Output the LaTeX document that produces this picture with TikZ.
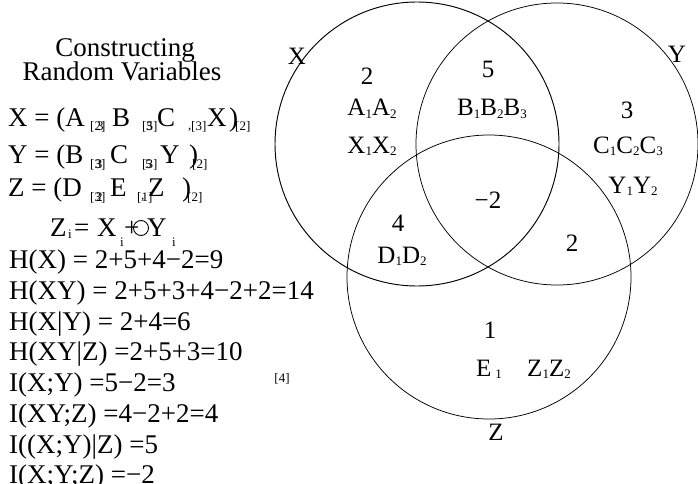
\documentclass[tikz,border=0pt]{standalone}
\usepackage{fontspec}
\setmainfont{Liberation Serif}
\newcommand{\vsb}[1]{\raisebox{-2pt}{\fontsize{13}{13}\selectfont#1}}
\begin{document}
\begin{tikzpicture}[x=1pt,y=-1pt,
  eq/.style={font=\fontsize{27}{30}\selectfont, anchor=base west, inner sep=0pt},
  ttl/.style={font=\fontsize{27}{30}\selectfont, anchor=base, inner sep=0pt},
  sb/.style={font=\fontsize{13}{15}\selectfont, anchor=base west, inner sep=0pt},
  vt/.style={font=\fontsize{25}{28}\selectfont, anchor=base, inner sep=0pt},
  ring/.style={draw=black, line width=0.75pt}]
\useasboundingbox (0,0) rectangle (698,484);
% circles
\draw[ring, line width=0.95pt] (417,144) circle[radius=142pt];
\draw[ring] (557,144) circle[radius=141pt];
\draw[ring] (489,277) circle[radius=142pt];
% circle labels
\node[vt] (lx) at (297,65) {X};
\node[vt] (ly) at (677,63) {Y};
\node[vt] (lz) at (496,440) {Z};
% region texts
\node[vt] (n2) at (367,85) {2};
\node[vt] (na) at (372,116) {A\vsb{1}A\vsb{2}};
\node[vt] (nx) at (372,153) {X\vsb{1}X\vsb{2}};
\node[vt] (n5) at (488,78) {5};
\node[vt] (nb) at (492,116) {B\vsb{1}B\vsb{2}B\vsb{3}};
\node[vt] (n3) at (627,118) {3};
\node[vt] (nc) at (628,153) {C\vsb{1}C\vsb{2}C\vsb{3}};
\node[vt] (ny) at (633,193) {Y\vsb{1}Y\vsb{2}};
\node[vt] (nm2) at (488,208) {−2};
\node[vt] (n4) at (398,231) {4};
\node[vt] (nd) at (402,263) {D\vsb{1}D\vsb{2}};
\node[vt] (n2b) at (572,251) {2};
\node[vt] (n1) at (490,338) {1};
\node[vt] (ne) at (489,376) {E\,\vsb{1}};
\node[vt] (nz) at (549,376) {Z\vsb{1}Z\vsb{2}};
\node[sb, anchor=base] (f4) at (282,382) {[4]};
% title
\node[ttl] (t1) at (125,57) {Constructing};
\node[ttl] (t2) at (122,81) {Random Variables};
% X line
\node[eq] (xa) at (8,126) {X = (A};
\node[sb] (xs1) at (90,131) {[2]};
\node[sb] (xs1b) at (97,131) {3};
\node[eq] (xb) at (112,126) {B};
\node[sb] (xs2) at (142,131) {[5]};
\node[sb] (xs2b) at (146,131) {3};
\node[eq] (xc) at (157,126) {C};
\node[sb] (xs3c) at (188,129) {,};
\node[sb] (xs3) at (191,131) {[3]};
\node[eq] (xx) at (207,126) {X};
\node[eq] (xp) at (229,126) {)};
\node[sb] (xs4) at (235,131) {[2]};
% Y line
\node[eq] (ya) at (8,163) {Y = (B};
\node[sb] (ys1) at (90,168) {[3]};
\node[sb] (ys1b) at (95.6,168) {3};
\node[eq] (yb) at (110,163) {C};
\node[sb] (ys2) at (142,168) {[3]};
\node[sb] (ys2b) at (145,168) {5};
\node[eq] (yc) at (160,163) {Y};
\node[eq] (yp) at (189,163) {)};
\node[sb] (ys3) at (192,168) {[2]};
% Z line
\node[eq] (za) at (8,196) {Z = (D};
\node[sb] (zs1) at (90,201) {[3]};
\node[sb] (zs1b) at (96,201) {2};
\node[eq] (zb) at (110,196) {E};
\node[sb] (zs2) at (137,201) {[1]};
\node[sb] (zs2b) at (141,199) {,};
\node[eq] (zc) at (148,196) {Z};
\node[eq] (zp) at (182,196) {)};
\node[sb] (zs3) at (187,201) {[2]};
% Zi line
\node[eq] (ia) at (50,236) {Z};
\node[sb] (is1) at (68,238) {i};
\node[eq] (ib) at (74,236) {=};
\node[eq] (ic) at (97,236) {X};
\node[sb] (is2) at (120,246) {i};
\node[eq] (ip) at (124,236) {+};
\draw[line width=0.9pt] (141,228) circle[radius=7.5pt];
\node[eq] (id) at (147,236) {Y};
\node[sb] (is3) at (172,246) {i};
% measures
\node[eq] (h1) at (9,268) {H(X) = 2+5+4−2=9};
\node[eq] (h2) at (9,299) {H(XY) = 2+5+3+4−2+2=14};
\node[eq] (h3) at (9,330) {H(X|Y) = 2+4=6};
\node[eq] (h4) at (9,360) {H(XY|Z) =2+5+3=10};
\node[eq] (i1) at (9,391) {I(X;Y) =5−2=3};
\node[eq] (i2) at (9,422) {I(XY;Z) =4−2+2=4};
\node[eq] (i3) at (9,453) {I((X;Y)|Z) =5};
\node[eq] (i4) at (9,483) {I(X;Y;Z) =−2};
\end{tikzpicture}
\end{document}
